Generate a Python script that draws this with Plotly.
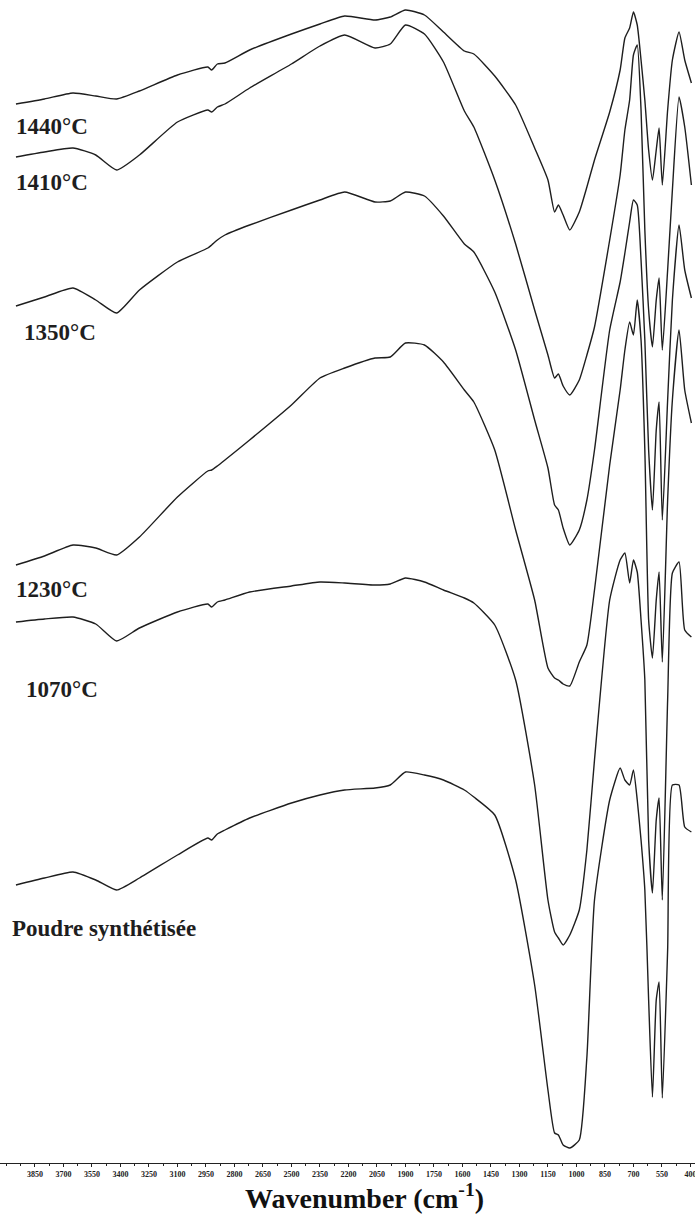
import plotly.graph_objects as go

# Wavenumber grid (cm-1) shared by all spectra
wavenumber = [3950, 3800, 3650, 3530, 3420, 3300, 3100, 2940, 2920, 2890, 2850, 2720, 2500,
              2350, 2220, 2060, 1980, 1900, 1800, 1700, 1590, 1540, 1430, 1320, 1220, 1150,
              1115, 1095, 1070, 1035, 985, 945, 905, 825, 770, 745, 720, 700, 680, 660, 640,
              620, 600, 580, 565, 548, 520, 495, 460, 430, 395]

# Offset transmittance (arbitrary units)
t_1440 = [1059, 1064, 1070, 1067, 1064, 1072, 1088, 1096, 1093, 1099, 1100, 1113, 1129, 1139,
          1147, 1143, 1146, 1153, 1148, 1131, 1112, 1109, 1087, 1058, 1015, 983, 951, 958, 948,
          933, 951, 976, 1003, 1051, 1093, 1125, 1135, 1151, 1138, 1103, 1063, 1013, 983, 1013,
          1035, 978, 1053, 1103, 1131, 1103, 1080]
t_1410 = [1006, 1011, 1015, 1008, 993, 1008, 1041, 1053, 1051, 1056, 1059, 1075, 1099, 1117, 1128,
          1115, 1119, 1138, 1129, 1101, 1052, 1036, 983, 919, 853, 808, 785, 789, 777, 768, 783,
          808, 836, 923, 988, 1033, 1063, 1108, 1118, 1053, 933, 853, 816, 863, 885, 813, 893,
          973, 1066, 1036, 978]
t_1350 = [857, 866, 875, 863, 850, 873, 901, 915, 918, 923, 928, 938, 953, 963, 971, 961, 962,
          971, 967, 947, 919, 911, 871, 813, 743, 695, 658, 653, 635, 618, 633, 663, 713, 833,
          881, 910, 941, 963, 958, 903, 823, 713, 653, 733, 761, 643, 763, 863, 938, 893, 865]
t_1230 = [598, 607, 618, 615, 608, 626, 666, 692, 693, 697, 703, 723, 758, 785, 795, 805, 806,
          820, 818, 801, 773, 761, 713, 633, 563, 495, 485, 483, 479, 477, 501, 518, 573, 698,
          773, 813, 841, 828, 863, 823, 713, 543, 505, 563, 591, 501, 663, 763, 833, 773, 740]
t_1070 = [541, 544, 546, 539, 522, 535, 551, 559, 556, 561, 563, 571, 577, 581, 580, 578, 579,
          585, 581, 573, 565, 560, 538, 483, 378, 263, 231, 225, 218, 228, 253, 313, 403, 563,
          603, 610, 580, 603, 591, 543, 483, 323, 270, 343, 365, 263, 463, 590, 601, 533, 526]
t_poudre = [278, 285, 291, 283, 273, 285, 308, 325, 323, 329, 333, 345, 360, 368, 373, 375, 378,
            391, 388, 383, 373, 366, 348, 283, 178, 73, 30, 28, 18, 15, 23, 106, 263, 363, 395,
            383, 378, 393, 363, 323, 273, 163, 66, 163, 181, 65, 213, 378, 378, 336, 331]

series_names = ["1440°C", "1410°C", "1350°C", "1230°C", "1070°C", "Poudre synthétisée"]
series_values = [t_1440, t_1410, t_1350, t_1230, t_1070, t_poudre]

tick_values = [3850, 3700, 3550, 3400, 3250, 3100, 2950, 2800, 2650, 2500, 2350, 2200, 2050,
               1900, 1750, 1600, 1450, 1300, 1150, 1000, 850, 700, 550, 400]
tick_labels = [str(v) for v in tick_values]

# label positions (paper coordinates) for each spectrum name
label_x = [0.020, 0.020, 0.032, 0.020, 0.035, 0.014]
label_y = [0.891, 0.843, 0.714, 0.493, 0.407, 0.202]

fig = go.Figure()
for name, vals in zip(series_names, series_values):
    fig.add_trace(go.Scatter(x=wavenumber, y=vals, mode="lines", name=name,
                             line=dict(color="#1e1e1e", width=1.4, shape="spline",
                                       smoothing=0.5)))

for name, lx, ly in zip(series_names, label_x, label_y):
    fig.add_annotation(text=name, x=lx, y=ly, xref="paper", yref="paper",
                       xanchor="left", yanchor="middle", showarrow=False,
                       font=dict(family="Liberation Serif", size=23, color="#1e1e1e",
                                 weight="bold"))

# axis title (offset to the right as in the original figure)
fig.add_annotation(text="Wavenumber (cm<sup>-1</sup>)", x=0.524, y=-0.0285,
                   xref="paper", yref="paper", xanchor="center", yanchor="middle",
                   showarrow=False,
                   font=dict(family="Liberation Serif", size=28, color="#111", weight="bold"))

fig.update_layout(
    width=695, height=1214,
    margin=dict(l=0, r=0, t=0, b=51),
    paper_bgcolor="white", plot_bgcolor="white",
    showlegend=False,
    xaxis=dict(range=[4034, 376], showgrid=False, zeroline=False,
               showline=True, linecolor="#222", linewidth=1,
               ticks="outside", ticklen=3, tickwidth=1, tickcolor="#222",
               tickmode="array", tickvals=tick_values, ticktext=tick_labels,
               ticklabeloverflow="allow",
               tickfont=dict(family="Liberation Serif", size=8, color="#222", weight="bold"),
               minor=dict(dtick=75, tick0=400, ticks="outside", ticklen=2, tickcolor="#222")),
    yaxis=dict(visible=False, range=[0, 1163]),
)

fig.write_html("out.html")
